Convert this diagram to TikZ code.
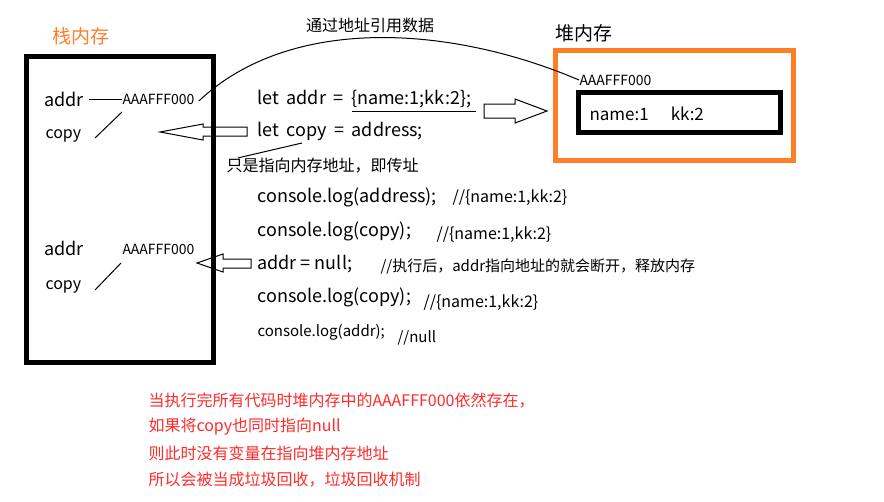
\documentclass[tikz,border=0pt]{standalone}
\usepackage{fontspec}
\setmainfont{Noto Sans CJK SC}
\definecolor{memorange}{HTML}{FF7F27}
\definecolor{notered}{HTML}{FF2A2A}
\newcommand{\fs}[1]{\fontsize{#1}{#1}\selectfont}
\newcommand{\wsp}{\hspace{7.5pt}}

\begin{document}
\begin{tikzpicture}[x=1pt, y=-1pt, line width=1pt,
    every node/.style={inner sep=0pt, anchor=west},
    note/.style={text=notered, font=\fs{16}}]
    \useasboundingbox (0,0) rectangle (884,501);

    % LEFT: stack memory
    \node[text=memorange, font=\fs{19}] (stacktitle) at (52,36) {栈内存};
    \draw[line width=5pt] (26.5,56.5) rectangle (213,362);
    \node[font=\fs{18}] (addrone) at (44,99) {addr};
    \node[font=\fs{14}] (valone) at (122,99) {AAAFFF000};
    \node[font=\fs{16}] (copyone) at (45,136) {copy};
    \coordinate (copyonetip) at (95,138);
    \draw (addrone.east) ++(5pt,0) -- (valone.west);
    \draw (copyonetip) -- (122,112);
    % after addr = null
    \node[font=\fs{18}] (addrtwo) at (44,248) {addr};
    \node[font=\fs{14}] (valtwo) at (122,249) {AAAFFF000};
    \node[font=\fs{16}] (copytwo) at (45,287) {copy};
    \coordinate (copytwotip) at (95,290);
    \draw (copytwotip) -- (121,263);

    % RIGHT: heap memory
    \node[font=\fs{19}] (heaptitle) at (555,33) {堆内存};
    \draw[memorange, line width=5pt] (555,50.5) rectangle (793,160.5);
    \node[font=\fs{14}] (heapval) at (579,80) {AAAFFF000};
    \draw[line width=5pt] (578.5,92.5) rectangle (780.5,132.5);
    \node[font=\fs{17}] (heapobj) at (589,114) {name:1\hspace{22pt}kk:2};

    % reference curve
    \node[anchor=center, font=\fs{16}] (reflabel) at (370,25) {通过地址引用数据};
    \draw (valone.east) ++(4pt,-2pt) .. controls (290,15) and (450,25) .. (heapval.west);

    % MIDDLE: code lines
    \node[font=\fs{18}] (codeone) at (257,99) {let\wsp addr\wsp =\wsp \{name:1;kk:2\};};
    \draw (352,111) -- (476,111);
    \node[font=\fs{18}] (codetwo) at (257,131) {let\wsp copy\wsp =\wsp address;};
    \node[font=\fs{16}] (notepass) at (226,166) {只是指向内存地址，即传址};
    \draw (302,143) -- ([xshift=12pt]notepass.north west);
    \node[font=\fs{18}] (codethree) at (257,197) {console.log(address);};
    \node[font=\fs{16}] (cmtthree) at (452,198) {//\{name:1,kk:2\}};
    \node[font=\fs{18}] (codefour) at (257,231) {console.log(copy);};
    \node[font=\fs{16}] (cmtfour) at (436,235) {//\{name:1,kk:2\}};
    \node[font=\fs{18}] (codefive) at (257,264) {addr = null;};
    \node[font=\fs{15}] (cmtfive) at (380,267) {//执行后，addr指向地址的就会断开，释放内存};
    \node[font=\fs{18}] (codesix) at (257,297) {console.log(copy);};
    \node[font=\fs{16}] (cmtsix) at (423,303) {//\{name:1,kk:2\}};
    \node[font=\fs{15}] (codeseven) at (257,332) {console.log(addr);};
    \node[font=\fs{15}] (cmtseven) at (397,338) {//null};

    % block arrows
    \draw (484,104) -- (515,104) -- (515,99) -- (547,111) -- (515,123) -- (515,118) -- (484,118) -- cycle;
    \draw (247,127) -- (203,127) -- (203,124) -- (160,132) -- (203,140) -- (203,136) -- (247,136) -- cycle;
    \draw (251,259) -- (223,259) -- (223,254) -- (197,263) -- (223,272) -- (223,268) -- (251,268) -- cycle;

    % BOTTOM: notes
    \node[note] (noteone) at (148,401) {当执行完所有代码时堆内存中的AAAFFF000依然存在，};
    \node[note] (notetwo) at (148,427) {如果将copy也同时指向null};
    \node[note] (notethree) at (148,453) {则此时没有变量在指向堆内存地址};
    \node[note] (notefour) at (148,480) {所以会被当成垃圾回收，垃圾回收机制};
\end{tikzpicture}
\end{document}
